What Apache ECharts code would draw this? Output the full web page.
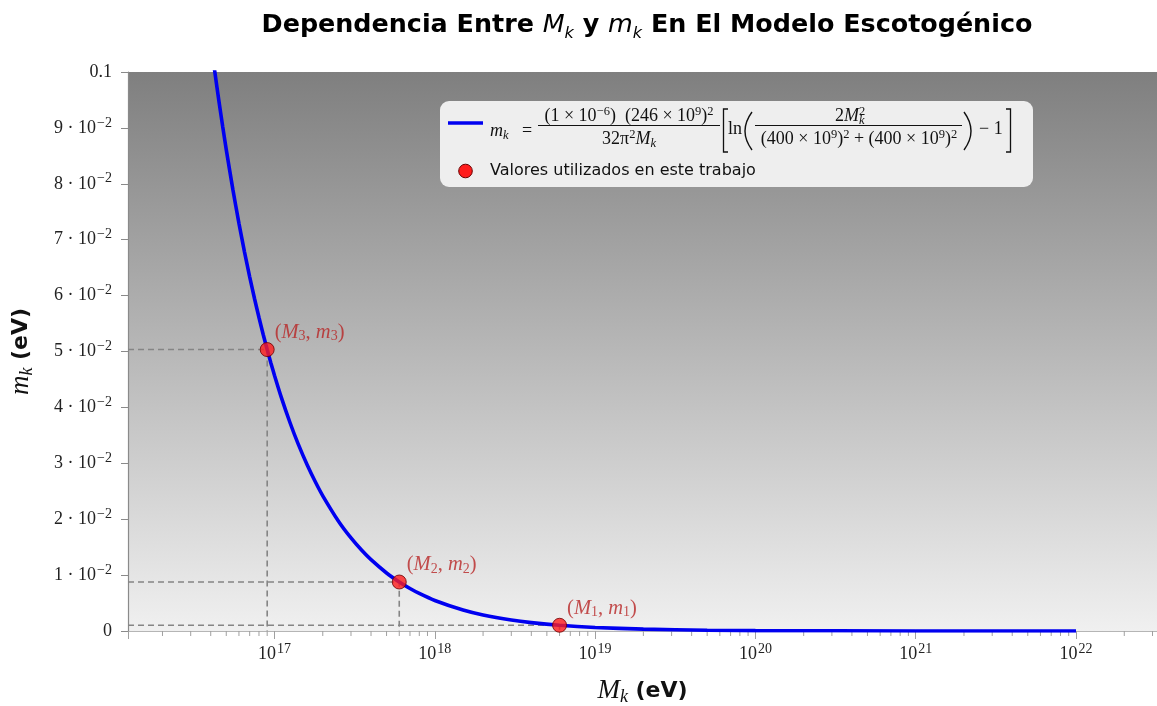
<!DOCTYPE html>
<html><head><meta charset="utf-8">
<script src="https://cdn.jsdelivr.net/npm/echarts@6/dist/echarts.min.js"></script>
<style>html,body{margin:0;padding:0;background:#fff}#c{width:1157px;height:706px}</style>
</head><body><div id="c"></div>
<script>
// Curve: M_k (eV) vs m_k (eV)
const curveM = [4e16, 4.25e16, 4.5e16, 4.75e16, 5e16, 5.5e16, 6e16, 6.5e16, 7e16, 7.5e16, 8e16, 8.5e16, 9e16, 9.5e16, 1e17, 1.1e17, 1.25e17, 1.4e17, 1.6e17, 1.8e17, 2e17, 2.5e17, 3e17, 3.5e17, 4e17, 5e17, 6e17, 7e17, 8e17, 1e18, 1.5e18, 2e18, 3e18, 4e18, 6e18, 1e19, 2e19, 5e19, 1e20, 1e21, 1e22];
const curvem = [0.105510, 0.099849, 0.094790, 0.090237, 0.086118, 0.078954, 0.072929, 0.067792, 0.063355, 0.059484, 0.056075, 0.053050, 0.050346, 0.047915, 0.045715, 0.041891, 0.037256, 0.033575, 0.029698, 0.026649, 0.024186, 0.019691, 0.016642, 0.014433, 0.012757, 0.010377, 0.0087636, 0.0075961, 0.0067105, 0.0054539, 0.0037396, 0.0028598, 0.0019583, 0.0014963, 0.0010234, 0.00063363, 0.00033010, 0.00013906, 0.000072187, 0.000008101, 0.000000898];
// Selected values
const pointM = [6e18, 6e17, 9e16];
const pointm = [0.0010234, 0.0087636, 0.050346];
const pointIdx = ['1', '2', '3'];
// Axis ranges / ticks
const xMin = 1.219e16, xMax = 3.2e22;
const yMin = 0, yMax = 0.1, yStep = 0.01;
const minorMult = [2, 3, 4, 5, 6, 7, 8, 9];
const decades = [16, 17, 18, 19, 20, 21, 22];

const SERIF = 'Liberation Serif';
const SANS = 'DejaVu Sans';

const minorTicks = [];
decades.forEach(e => minorMult.forEach(k => { const v = k * Math.pow(10, e); if (v > xMin && v < xMax) minorTicks.push([v, 0]); }));

const guideSeries = pointM.map((M, i) => ({
  type: 'line', silent: true, symbol: 'none', z: 2,
  data: [[xMin, pointm[i]], [M, pointm[i]], [M, 0]],
  lineStyle: { color: '#858585', width: 1.6, type: [6, 4] }
}));

const chart = echarts.init(document.getElementById('c'));
const FS = 18;
const mathRich = {
  r: { fontFamily: SERIF, fontSize: FS, lineHeight: 22, color: '#111' },
  i: { fontFamily: SERIF, fontStyle: 'italic', fontSize: FS, lineHeight: 22, color: '#111' },
  s: { fontFamily: SERIF, fontStyle: 'italic', fontSize: 12.5, lineHeight: 13, verticalAlign: 'bottom', color: '#111' },
  p: { fontFamily: SERIF, fontSize: 12.5, lineHeight: 12, verticalAlign: 'top', color: '#111' }
};
function T(x, y, text, align) {
  return { type: 'text', z: 101, style: { x: x, y: y, text: text, textAlign: align || 'left', textVerticalAlign: 'middle', rich: mathRich, fill: '#111' } };
}
const barStyle = { stroke: '#111', lineWidth: 1 };
const nameRich = {
  i: { fontFamily: SERIF, fontStyle: 'italic', fontSize: 27, lineHeight: 30, color: '#111' },
  s: { fontFamily: SERIF, fontStyle: 'italic', fontSize: 18, lineHeight: 18, verticalAlign: 'bottom', color: '#111' },
  b: { fontFamily: SANS, fontWeight: 'bold', fontSize: 22, lineHeight: 30, color: '#111' }
};
const tickRich = {
  b: { fontFamily: SERIF, fontSize: 18, lineHeight: 24, color: '#222' },
  p: { fontFamily: SERIF, fontSize: 14, lineHeight: 12, verticalAlign: 'top', color: '#222', padding: [0, 0, 0, 1] }
};

const option = {
  animation: false,
  title: {
    text: '{b|Dependencia Entre }{i|M}{s|k}{b| y }{i|m}{s|k}{b| En El Modelo Escotogénico}',
    left: 642, top: 3, textAlign: 'center',
    textStyle: {
      rich: {
        b: { fontFamily: SANS, fontWeight: 'bold', fontSize: 25.4, lineHeight: 34, color: '#000' },
        i: { fontFamily: SANS, fontStyle: 'italic', fontWeight: 'normal', fontSize: 25.4, lineHeight: 34, color: '#000' },
        s: { fontFamily: SANS, fontStyle: 'italic', fontWeight: 'normal', fontSize: 16, lineHeight: 20, verticalAlign: 'bottom', color: '#000' }
      }
    }
  },
  grid: {
    left: 128, right: 0, top: 72, bottom: 75, show: true, borderWidth: 0,
    outerBoundsMode: 'none', containLabel: false,
    backgroundColor: { type: 'linear', x: 0, y: 0, x2: 0, y2: 1, colorStops: [{ offset: 0, color: '#7f7f7f' }, { offset: 1, color: '#f0f0f0' }] }
  },
  xAxis: {
    type: 'log', min: xMin, max: xMax, logBase: 10,
    name: '{i|M}{s|k}{b| (eV)}', nameLocation: 'middle', nameGap: 45,
    nameTextStyle: { rich: nameRich },
    axisLine: { show: true, lineStyle: { color: '#b5b5b5', width: 1.2 } },
    axisTick: { show: true, length: 8, lineStyle: { color: '#a0a0a0' } },
    splitLine: { show: false },
    axisLabel: {
      margin: 11,
      formatter: v => {
        const e = Math.log10(v);
        if (Math.abs(e - Math.round(e)) > 1e-6) return '';
        return '{b|10}{p|' + Math.round(e) + '}';
      },
      rich: tickRich
    }
  },
  yAxis: {
    type: 'value', min: yMin, max: yMax, interval: yStep,
    name: '{i|m}{s|k}{b| (eV)}', nameLocation: 'middle', nameGap: 92,
    nameTextStyle: { rich: nameRich },
    axisLine: { show: true, lineStyle: { color: '#8a8a8a', width: 1.2 } },
    axisTick: { show: true, length: 7, lineStyle: { color: '#8a8a8a' } },
    splitLine: { show: false },
    axisLabel: {
      margin: 16,
      formatter: v => {
        const k = Math.round(v / yStep);
        if (k === 0) return '{b|0}';
        if (k === 10) return '{b|0.1}';
        return '{b|' + k + ' · 10}{p|−2}';
      },
      rich: tickRich
    }
  },
  series: [
    {
      type: 'custom', silent: true, clip: false, z: 1,
      data: minorTicks,
      renderItem: (params, api) => {
        const p = api.coord([api.value(0), api.value(1)]);
        return { type: 'line', shape: { x1: p[0], y1: p[1], x2: p[0], y2: p[1] + 5 }, style: { stroke: '#a0a0a0', lineWidth: 1 } };
      }
    },
    ...guideSeries,
    {
      type: 'line', name: 'curve', symbol: 'none', smooth: 0.2, z: 3,
      data: curveM.map((M, i) => [M, curvem[i]]),
      lineStyle: { color: '#0000f0', width: 3.6 }
    },
    {
      type: 'scatter', name: 'points', z: 4, symbolSize: 14,
      data: pointM.map((M, i) => [M, pointm[i]]),
      itemStyle: { color: '#ff1c1c', borderColor: '#6a0000', borderWidth: 1 },
      label: {
        show: true, position: 'right', distance: 0, offset: [0, -17],
        formatter: p => '{r|(}{i|M}{s|' + pointIdx[p.dataIndex] + '}{r|, }{i|m}{s|' + pointIdx[p.dataIndex] + '}{r|)}',
        rich: {
          r: { fontFamily: SERIF, fontSize: 20.5, lineHeight: 22, color: '#b82424' },
          i: { fontFamily: SERIF, fontStyle: 'italic', fontSize: 20.5, lineHeight: 22, color: '#b82424' },
          s: { fontFamily: SERIF, fontSize: 14, lineHeight: 14, verticalAlign: 'bottom', color: '#b82424' }
        }
      }
    }
  ],
  graphic: [
    { type: 'rect', z: 100, shape: { x: 440, y: 101, width: 593, height: 86, r: 9 }, style: { fill: '#eeeeee' } },
    { type: 'line', z: 101, shape: { x1: 448, y1: 123, x2: 483, y2: 123 }, style: { stroke: '#0000f0', lineWidth: 3.6 } },
    T(490, 131, '{i|m}{s|k}{r|   =}'),
    T(629, 116, '{r|(1 × 10}{p|−6}{r|)  (246 × 10}{p|9}{r|)}{p|2}', 'center'),
    { type: 'line', z: 101, shape: { x1: 538, y1: 125.5, x2: 720, y2: 125.5 }, style: barStyle },
    T(629, 139, '{r|32π}{p|2}{i|M}{s|k}', 'center'),
    { type: 'polyline', z: 101, shape: { points: [[728, 109], [723.5, 109], [723.5, 152], [728, 152]] }, style: { stroke: '#111', lineWidth: 1.3, fill: null } },
    T(728, 129, '{r|ln}'),
    { type: 'bezierCurve', z: 101, shape: { x1: 752, y1: 112, cpx1: 738, cpy1: 131, x2: 752, y2: 150 }, style: { stroke: '#111', lineWidth: 1.4, fill: null } },
    T(859, 116, '{r|2}{i|M}', 'right'),
    T(859, 111, '{p|2}', 'left'),
    T(859, 121, '{s|k}', 'left'),
    { type: 'line', z: 101, shape: { x1: 755, y1: 125.5, x2: 962, y2: 125.5 }, style: barStyle },
    T(859, 139, '{r|(400 × 10}{p|9}{r|)}{p|2}{r| + (400 × 10}{p|9}{r|)}{p|2}', 'center'),
    { type: 'bezierCurve', z: 101, shape: { x1: 964, y1: 112, cpx1: 978, cpy1: 131, x2: 964, y2: 150 }, style: { stroke: '#111', lineWidth: 1.4, fill: null } },
    T(979, 129, '{r|− 1}'),
    { type: 'polyline', z: 101, shape: { points: [[1006, 109], [1010.5, 109], [1010.5, 152], [1006, 152]] }, style: { stroke: '#111', lineWidth: 1.3, fill: null } },
    { type: 'circle', z: 101, shape: { cx: 465.5, cy: 171, r: 6.8 }, style: { fill: '#ff1c1c', stroke: '#6a0000', lineWidth: 1 } },
    { type: 'text', z: 101, style: { x: 490, y: 171, text: 'Valores utilizados en este trabajo', textVerticalAlign: 'middle', fontFamily: SANS, fontSize: 16, fill: '#111' } }
  ]
};
chart.setOption(option);
</script>
</body></html>
